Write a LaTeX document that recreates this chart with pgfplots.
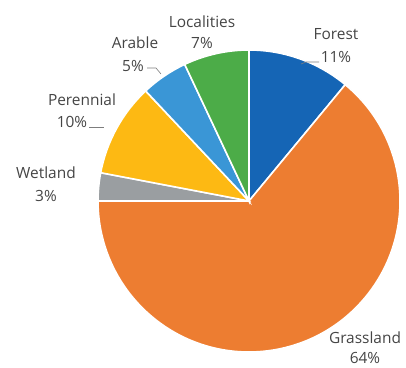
\documentclass[border=0pt]{standalone}
\usepackage{pgfplots}
\usepackage{pgfplotstable}
\pgfplotsset{compat=1.18}
\usepackage{fontspec}
\setmainfont{Open Sans}
\definecolor{pie0}{HTML}{1565B5}
\definecolor{pie1}{HTML}{ED7D31}
\definecolor{pie2}{HTML}{9A9EA1}
\definecolor{pie3}{HTML}{FDB913}
\definecolor{pie4}{HTML}{3A96D6}
\definecolor{pie5}{HTML}{4CAC48}
\definecolor{txt}{HTML}{454545}
\pgfplotstableread{
name value
Forest 11
Grassland 64
Wetland 3
Perennial 10
Arable 5
Localities 7
}\piedata
\begin{document}
\begin{tikzpicture}
\begin{axis}[
  scale only axis, width=406bp, height=368bp,
  xmin=0, xmax=406, ymin=0, ymax=368,
  hide axis, clip=false,
]
\def\curangle{90}
\pgfplotsforeachungrouped \i in {0,...,5}{%
  \pgfplotstablegetelem{\i}{value}\of\piedata
  \let\val\pgfplotsretval
  \pgfmathsetmacro\endangle{\curangle - 3.6*\val}%
  \edef\temp{\noexpand\fill[pie\i, draw=white, line width=1.6bp] (axis cs:249,167) -- ++(\curangle:151bp) arc[start angle=\curangle, end angle=\endangle, radius=151bp] -- cycle;}%
  \temp
  \let\curangle\endangle
}
\begin{scope}[every node/.style={text=txt, font=\fontsize{15.5}{19}\selectfont, align=center, inner sep=0pt}]
\node at (axis cs:202,346) {Localities};
\node at (axis cs:202,325) {7\%};
\node at (axis cs:336,334) {Forest};
\node at (axis cs:336,311) {11\%};
\node at (axis cs:135,325) {Arable};
\node at (axis cs:133,302) {5\%};
\node at (axis cs:82,268) {Perennial};
\node at (axis cs:72,246) {10\%};
\node at (axis cs:46,195) {Wetland};
\node at (axis cs:46,172) {3\%};
\node at (axis cs:365,30) {Grassland};
\node at (axis cs:365,10) {64\%};
\end{scope}
\draw[txt!70, line width=0.6bp] (axis cs:301,304) -- (axis cs:306,306) -- (axis cs:319,306);
\draw[txt!70, line width=0.6bp] (axis cs:147,300) -- (axis cs:156,300) -- (axis cs:161,294);
\draw[txt!70, line width=0.6bp] (axis cs:89,241) -- (axis cs:104,241);
\end{axis}
\pgfresetboundingbox
\path (0,0) rectangle (406bp,368bp);
\end{tikzpicture}
\end{document}
